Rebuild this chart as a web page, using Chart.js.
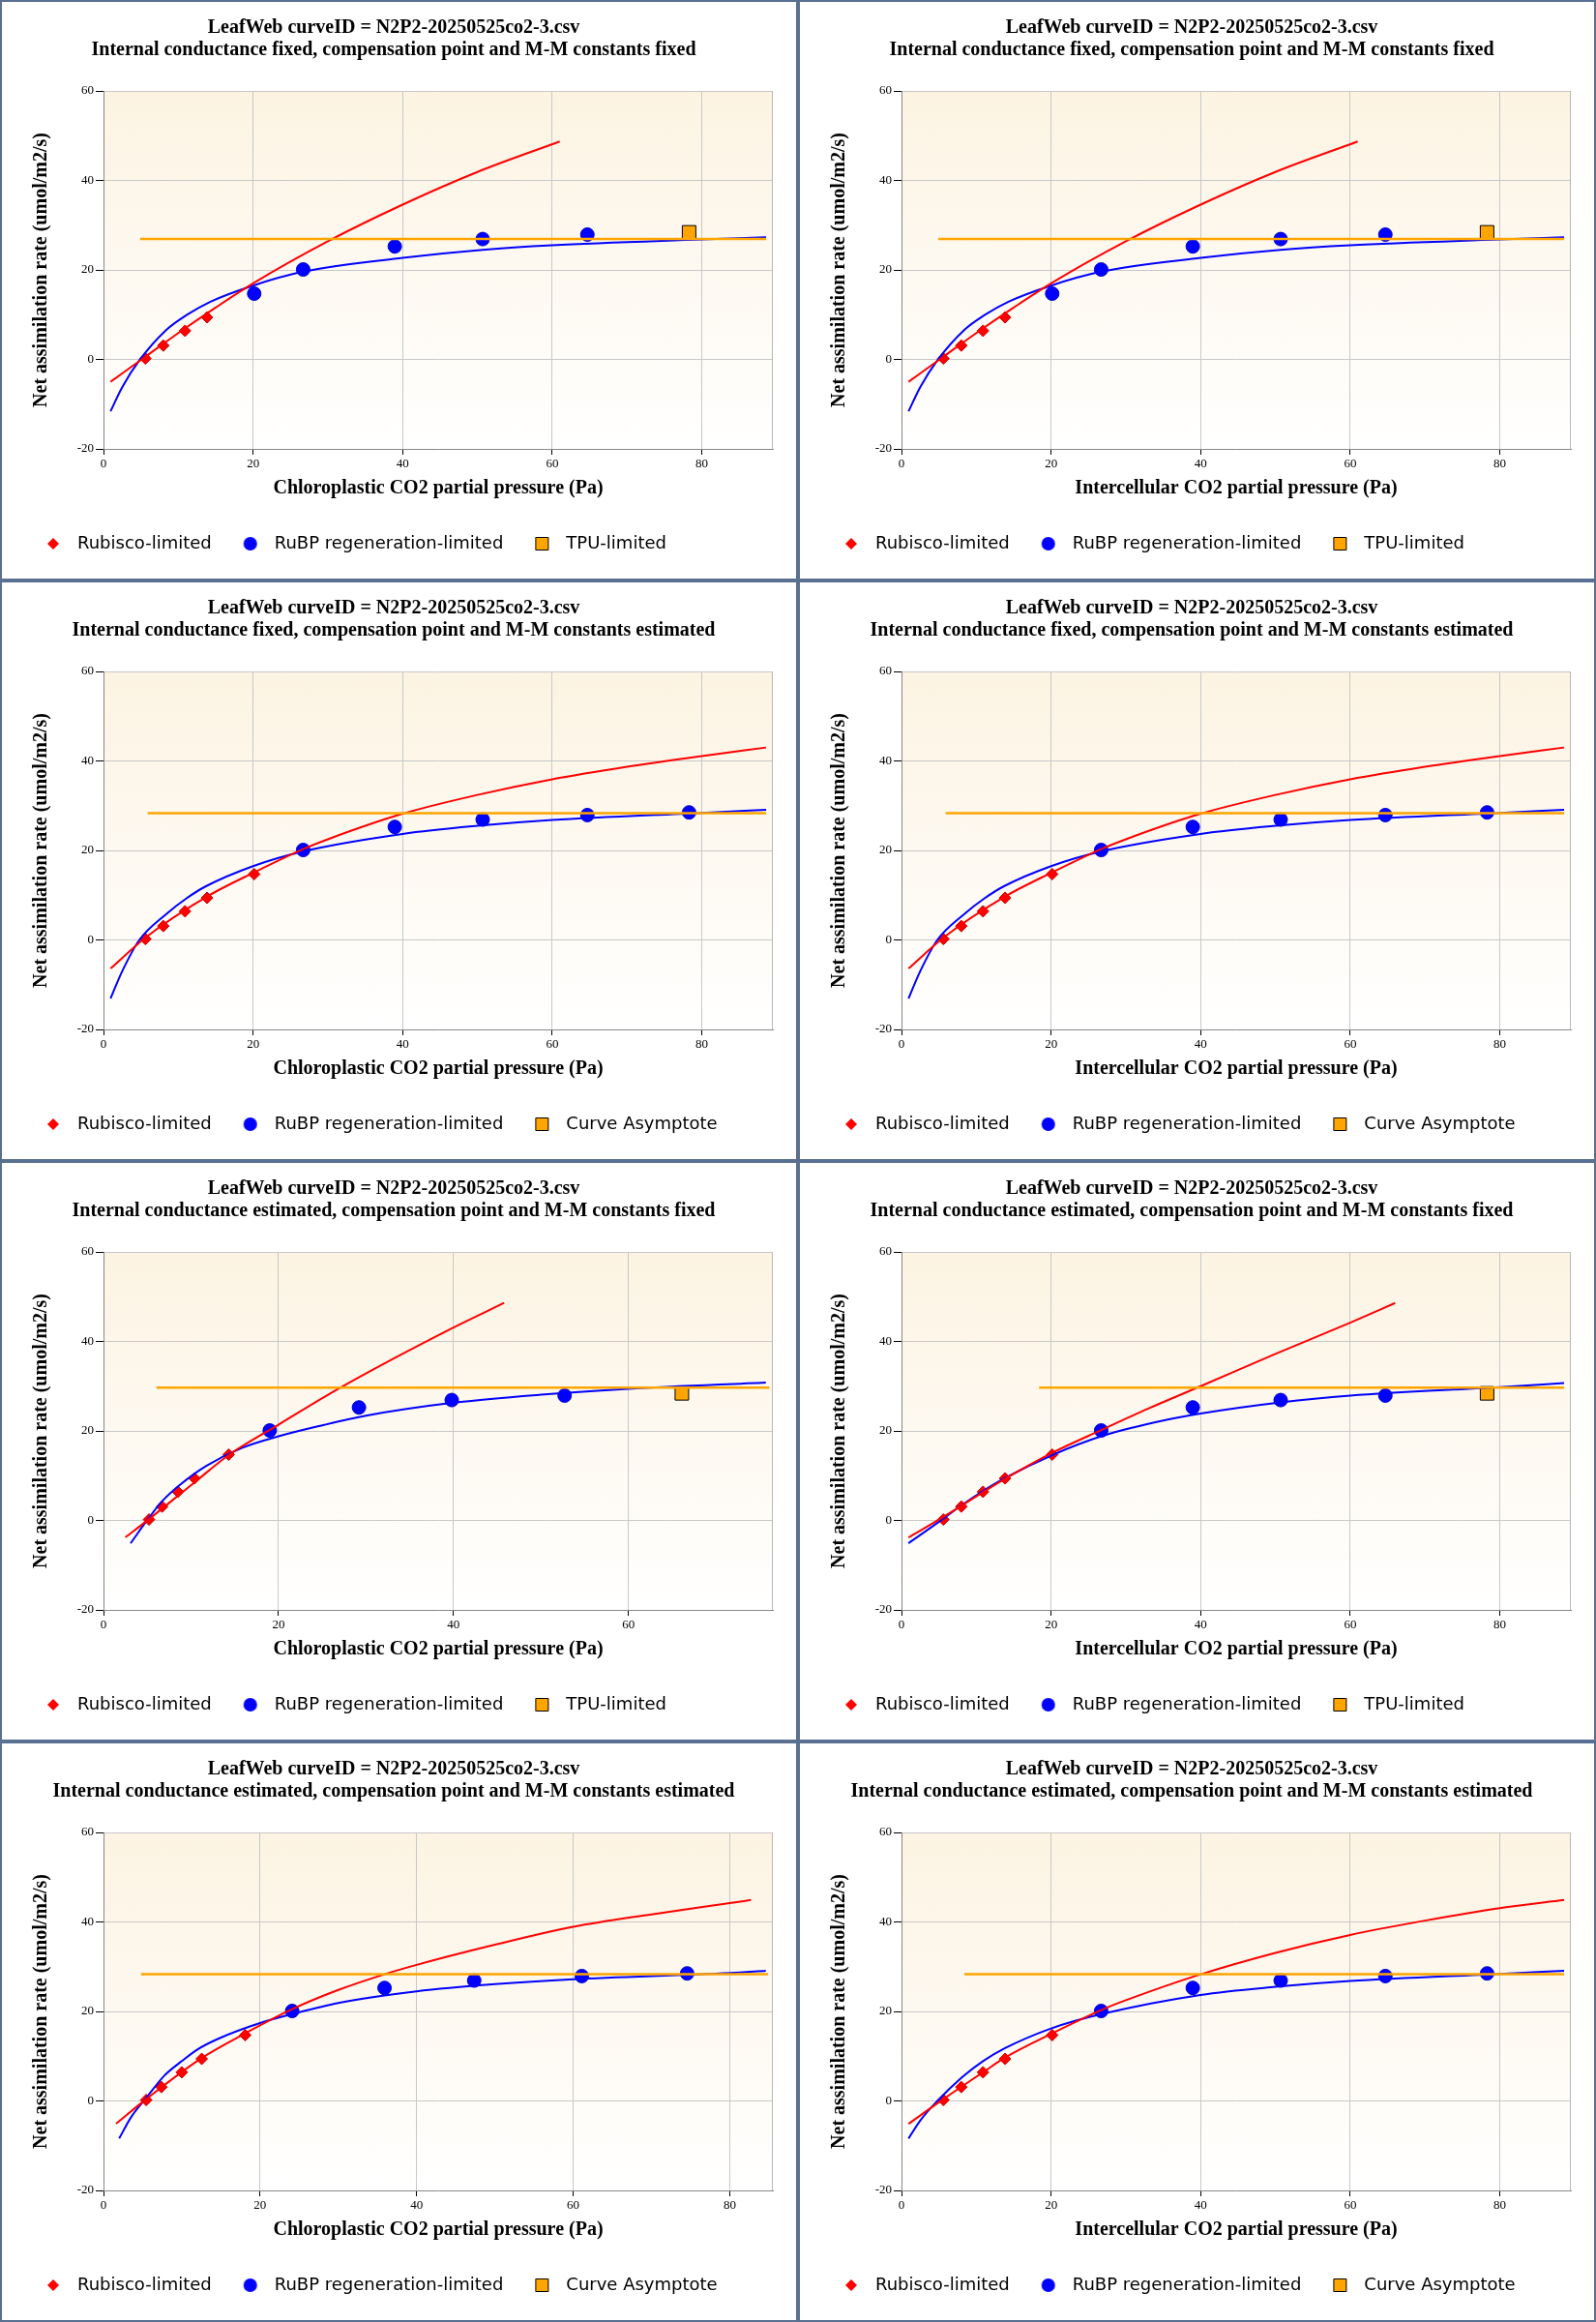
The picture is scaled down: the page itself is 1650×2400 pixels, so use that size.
<!DOCTYPE html>
<html>
<head>
<meta charset="utf-8">
<script src="https://cdn.jsdelivr.net/npm/chart.js@4.4.1/dist/chart.umd.min.js"></script>
<style>
  body { margin: 0; background: #fff; }
  #grid { display: grid; grid-template-columns: 825px 825px; width: 1650px; }
  .panel { width: 825px; height: 600px; box-sizing: border-box; border: 2px solid #5a7091; background: #fff; }
  .panel canvas { display: block; }
</style>
</head>
<body>
<div id="grid"></div>
<script>
// texts
const curveId = 'LeafWeb curveID = N2P2-20250525co2-3.csv';
const subtitles = [
  'Internal conductance fixed, compensation point and M-M constants fixed',
  'Internal conductance fixed, compensation point and M-M constants fixed',
  'Internal conductance fixed, compensation point and M-M constants estimated',
  'Internal conductance fixed, compensation point and M-M constants estimated',
  'Internal conductance estimated, compensation point and M-M constants fixed',
  'Internal conductance estimated, compensation point and M-M constants fixed',
  'Internal conductance estimated, compensation point and M-M constants estimated',
  'Internal conductance estimated, compensation point and M-M constants estimated'
];
const xTitles = ['Chloroplastic CO2 partial pressure (Pa)', 'Intercellular CO2 partial pressure (Pa)'];
const yTitle = 'Net assimilation rate (umol/m2/s)';
const legendNames = ['Rubisco-limited', 'RuBP regeneration-limited'];
const thirdNames = ['TPU-limited', 'TPU-limited', 'Curve Asymptote', 'Curve Asymptote',
                    'TPU-limited', 'TPU-limited', 'Curve Asymptote', 'Curve Asymptote'];
const xMaxes = [89.5, 89.5, 89.5, 89.5, 76.5, 89.5, 85.5, 89.5];
const yTicks = [-20, 0, 20, 40, 60];

// observed points
const rubiscoObsA = [[5.6, 0.2], [8.0, 3.1], [10.9, 6.4], [13.85, 9.4]];
const rubiscoObsB = [[5.6, 0.2], [8.0, 3.1], [10.9, 6.4], [13.85, 9.4], [20.15, 14.7]];
const rubiscoObsC = [[5.2, 0.2], [6.7, 3.1], [8.5, 6.4], [10.4, 9.4], [14.3, 14.7]];
const rubiscoObsD = [[5.45, 0.2], [7.4, 3.1], [10.0, 6.4], [12.55, 9.4], [18.1, 14.7]];
const rubpObsA = [[20.15, 14.7], [26.7, 20.1], [38.95, 25.25], [50.7, 26.9], [64.7, 27.9]];
const rubpObsB = [[26.7, 20.1], [38.95, 25.25], [50.7, 26.9], [64.7, 27.9], [78.3, 28.5]];
const rubpObsC = [[19.0, 20.1], [29.2, 25.25], [39.8, 26.9], [52.7, 27.9]];
const rubpObsD = [[26.7, 20.1], [38.95, 25.25], [50.7, 26.9], [64.7, 27.9]];
const rubpObsE = [[24.1, 20.1], [35.9, 25.25], [47.35, 26.9], [61.1, 27.9], [74.55, 28.5]];
const tpuObsA = [[78.3, 28.4]];
const tpuObsC = [[66.1, 28.4]];
const noObs = [];

// fitted curves
const rubiscoFitA = [[0.94, -5.0], [5.6, 0.6], [10, 5.9], [15, 11.6], [20, 17.0], [30, 26.4], [40, 34.6], [50, 41.9], [61, 48.7]];
const rubpFitA = [[0.94, -11.6], [2.5, -6.2], [4.8, -0.2], [8.4, 6.6], [11.1, 9.9], [14.3, 12.9], [20, 16.5], [26.7, 19.6],
                  [40, 22.7], [50.7, 24.5], [60, 25.5], [80, 26.8], [88.6, 27.3]];
const asymA = [[4.9, 26.9], [88.6, 26.9]];

const rubiscoFitB = [[0.94, -6.4], [5.6, 0.5], [13.85, 9.7], [20.15, 15.1], [26.7, 20.3], [30, 22.5], [40, 28.2],
                     [50, 32.4], [60, 35.9], [70, 38.7], [80, 41.1], [88.6, 43.0]];
const rubpFitB = [[0.94, -13.1], [2.5, -7.0], [4.8, 0], [8.4, 5.8], [11.1, 9.3], [13.7, 12.0], [20, 16.5], [26.7, 19.8],
                  [40, 23.7], [50, 25.5], [60, 26.8], [80, 28.4], [88.6, 29.1]];
const asymB = [[5.9, 28.3], [88.6, 28.3]];

const rubiscoFitC = [[2.5, -3.8], [5.2, 0.3], [10.4, 8.5], [14.3, 14.6], [20, 21.4], [27.1, 29.7], [40, 43.1], [45.8, 48.6]];
const rubpFitC = [[3.1, -5.1], [5.2, 0.6], [6.7, 4.3], [8.7, 7.9], [11.75, 12.2], [15.8, 16.2], [20, 18.8], [24.9, 21.2],
                  [30, 23.4], [40, 26.3], [50, 28.1], [60, 29.4], [75.7, 30.8]];
const asymC = [[6.05, 29.7], [76.1, 29.7]];

const rubiscoFitD = [[0.94, -3.8], [5.6, 0.8], [10.9, 6.3], [13.85, 9.3], [20.15, 15.1], [26.7, 20.2], [33, 25.0],
                     [40, 30.0], [50, 37.2], [60, 44.2], [66, 48.6]];
const rubpFitD = [[0.94, -5.1], [5.6, 0.4], [7.95, 3.3], [10.9, 6.6], [13.85, 9.5], [20.15, 14.6], [26.7, 18.8], [33.8, 21.9],
                  [40, 23.9], [50.7, 26.4], [60, 27.9], [80, 29.8], [88.6, 30.7]];
const asymD = [[18.4, 29.7], [88.6, 29.7]];

const rubiscoFitE = [[1.6, -5.1], [5.45, 0.4], [12.55, 9.6], [18.1, 15.1], [24.1, 20.5], [30, 24.8], [35.9, 28.3],
                     [40, 30.4], [50, 34.9], [60, 38.9], [70, 41.7], [80, 44.2], [82.7, 44.9]];
const rubpFitE = [[2.0, -8.4], [3.5, -3.7], [5.45, 0.65], [7.8, 5.7], [10, 8.9], [12, 11.5], [14.8, 14.0], [20, 17.4],
                  [24.1, 19.4], [30, 21.9], [40, 24.5], [50, 26.1], [60, 27.2], [80, 28.6], [84.6, 29.1]];
const asymE = [[4.8, 28.3], [84.9, 28.3]];

const rubiscoFitF = [[0.94, -5.1], [5.6, 0.4], [10.9, 6.4], [13.85, 9.7], [20.15, 15.1], [26.7, 20.3], [30, 22.5],
                     [40, 28.3], [50, 33.1], [60, 37.1], [70, 40.3], [80, 43.1], [88.6, 44.9]];
const rubpFitF = [[0.94, -8.4], [2.5, -4.4], [4.8, 0], [8.1, 5.3], [10.9, 8.9], [13.85, 11.8], [20, 16.2], [26.7, 19.4],
                  [40, 23.7], [50, 25.5], [60, 26.8], [80, 28.4], [88.6, 29.1]];
const asymF = [[8.4, 28.3], [88.6, 28.3]];

// which arrays go in which panel (row by row, left then right)
const rubiscoObsByPanel = [rubiscoObsA, rubiscoObsA, rubiscoObsB, rubiscoObsB, rubiscoObsC, rubiscoObsB, rubiscoObsD, rubiscoObsB];
const rubpObsByPanel = [rubpObsA, rubpObsA, rubpObsB, rubpObsB, rubpObsC, rubpObsD, rubpObsE, rubpObsB];
const tpuObsByPanel = [tpuObsA, tpuObsA, noObs, noObs, tpuObsC, tpuObsA, noObs, noObs];
const rubiscoFitByPanel = [rubiscoFitA, rubiscoFitA, rubiscoFitB, rubiscoFitB, rubiscoFitC, rubiscoFitD, rubiscoFitE, rubiscoFitF];
const rubpFitByPanel = [rubpFitA, rubpFitA, rubpFitB, rubpFitB, rubpFitC, rubpFitD, rubpFitE, rubpFitF];
const asymByPanel = [asymA, asymA, asymB, asymB, asymC, asymD, asymE, asymF];

const RED = '#ff0000', BLUE = '#0000ff', ORANGE = '#ffa500';

// small marker pictures for the legend
function makeMarker(kind) {
  const c = document.createElement('canvas');
  c.width = 16; c.height = 16;
  const g = c.getContext('2d');
  g.beginPath();
  if (kind === 'diamond') {
    g.moveTo(8, 2); g.lineTo(14, 8); g.lineTo(8, 14); g.lineTo(2, 8); g.closePath();
    g.fillStyle = RED; g.fill();
  } else if (kind === 'circle') {
    g.arc(8, 8, 7, 0, Math.PI * 2);
    g.fillStyle = BLUE; g.fill();
  } else {
    g.rect(1.5, 1.5, 13, 13);
    g.fillStyle = ORANGE; g.fill();
    g.lineWidth = 1; g.strokeStyle = '#000'; g.stroke();
  }
  return c;
}
const legendMarkers = [makeMarker('diamond'), makeMarker('circle'), makeMarker('square')];

// cream gradient behind the plot plus a light frame
const plotBackground = {
  id: 'plotBackground',
  beforeDraw(chart) {
    const { ctx, chartArea: a } = chart;
    const grad = ctx.createLinearGradient(0, a.top, 0, a.bottom);
    grad.addColorStop(0, '#fcf3e2');
    grad.addColorStop(1, '#ffffff');
    ctx.save();
    ctx.fillStyle = grad;
    ctx.fillRect(a.left, a.top, a.right - a.left, a.bottom - a.top);
    ctx.restore();
  },
  afterDraw(chart) {
    const { ctx, chartArea: a } = chart;
    ctx.save();
    ctx.strokeStyle = '#b8b8b8';
    ctx.lineWidth = 1;
    ctx.beginPath();
    ctx.moveTo(a.right - 0.5, a.top);
    ctx.lineTo(a.right - 0.5, a.bottom);
    ctx.stroke();
    ctx.restore();
  }
};

const serif = 'Liberation Serif';

function buildPanel(i) {
  const holder = document.createElement('div');
  holder.className = 'panel';
  const canvas = document.createElement('canvas');
  canvas.width = 821;
  canvas.height = 596;
  holder.appendChild(canvas);
  document.getElementById('grid').appendChild(holder);

  const names = [legendNames[0], legendNames[1], thirdNames[i]];

  new Chart(canvas, {
    type: 'scatter',
    data: {
      datasets: [
        { label: 'asymptote', data: asymByPanel[i], showLine: true, borderColor: ORANGE, borderWidth: 2.5,
          pointRadius: 0, order: 0 },
        { label: 'rubisco fit', data: rubiscoFitByPanel[i], showLine: true, borderColor: RED, borderWidth: 2,
          pointRadius: 0, cubicInterpolationMode: 'monotone', order: 1 },
        { label: 'rubp fit', data: rubpFitByPanel[i], showLine: true, borderColor: BLUE, borderWidth: 2,
          pointRadius: 0, cubicInterpolationMode: 'monotone', order: 1 },
        { label: names[0], data: rubiscoObsByPanel[i], pointStyle: 'rectRot', pointRadius: 6,
          backgroundColor: RED, borderColor: '#c80000', borderWidth: 1, order: 2 },
        { label: names[1], data: rubpObsByPanel[i], pointStyle: 'circle', pointRadius: 7,
          backgroundColor: BLUE, borderColor: '#0000d0', borderWidth: 1, order: 2 },
        { label: names[2], data: tpuObsByPanel[i], pointStyle: 'rect', pointRadius: 9.9,
          backgroundColor: ORANGE, borderColor: '#000', borderWidth: 1, order: 2 }
      ]
    },
    options: {
      responsive: false,
      animation: false,
      devicePixelRatio: 1,
      layout: { padding: { left: 13, right: 24, top: 0, bottom: 17 } },
      plugins: {
        tooltip: { enabled: false },
        title: {
          display: true,
          text: [curveId, subtitles[i]],
          color: '#000',
          font: { family: serif, size: 20, weight: 'bold', lineHeight: 1.15 },
          padding: { top: 15.5, bottom: 30.5 }
        },
        legend: {
          display: true,
          position: 'bottom',
          align: 'start',
          labels: {
            usePointStyle: true,
            pointStyleWidth: 32,
            padding: 24,
            color: '#000',
            font: { family: 'DejaVu Sans', size: 18 },
            generateLabels: () => names.map((t, k) => ({
              text: t, pointStyle: legendMarkers[k], fillStyle: 'rgba(0,0,0,0)',
              strokeStyle: 'rgba(0,0,0,0)', lineWidth: 0, hidden: false, datasetIndex: 3 + k
            }))
          }
        }
      },
      scales: {
        x: {
          type: 'linear',
          min: 0,
          max: xMaxes[i],
          afterFit(s) { s.height = 65; },
          ticks: { stepSize: 20, includeBounds: false, padding: 2, color: '#000',
                   font: { family: serif, size: 13 } },
          grid: { color: '#c8c8c8', tickColor: '#000', tickLength: 6 },
          border: { color: '#888' },
          title: { display: true, text: xTitles[i % 2], color: '#000',
                   font: { family: serif, size: 20, weight: 'bold', lineHeight: 1.2 },
                   padding: { top: 0, bottom: 12.5 } }
        },
        y: {
          type: 'linear',
          min: yTicks[0],
          max: yTicks[yTicks.length - 1],
          afterFit(s) { s.width = 92; },
          ticks: { stepSize: 20, padding: 2, color: '#000', font: { family: serif, size: 13 } },
          grid: { color: '#c8c8c8', tickColor: '#000', tickLength: 8 },
          border: { color: '#888' },
          title: { display: true, text: yTitle, color: '#000',
                   font: { family: serif, size: 20, weight: 'bold', lineHeight: 1.2 },
                   padding: { top: 16, bottom: 0 } }
        }
      }
    },
    plugins: [plotBackground]
  });
}

for (let i = 0; i < 8; i++) buildPanel(i);
</script>
</body>
</html>
